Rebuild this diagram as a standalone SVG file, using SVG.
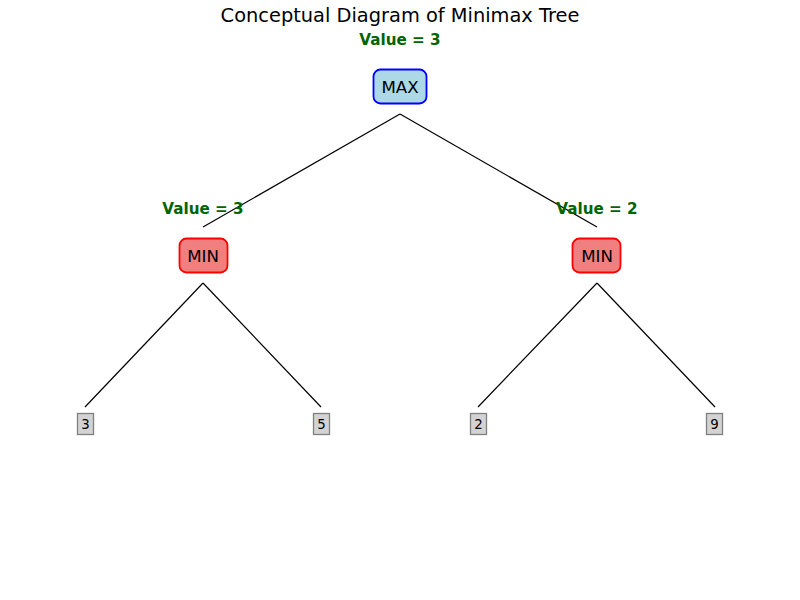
<svg xmlns="http://www.w3.org/2000/svg" width="800" height="600" viewBox="0 0 800 600">
<style>
text{font-family:"DejaVu Sans",sans-serif;text-anchor:middle}
.title{font-size:19.4px;fill:#000}
.val{font-size:15.2px;font-weight:bold;fill:#006400}
.lbl{font-size:16.67px;fill:#000}
.leaf{font-size:13.33px;fill:#000}
.max{fill:#add8e6;stroke:#0000ff;stroke-width:1.8}
.min{fill:#f08080;stroke:#ff0000;stroke-width:1.8}
.lf{fill:#d3d3d3;stroke:#808080;stroke-width:1.3}
.edge{stroke:#000;stroke-width:1.2;fill:none}
</style>
<rect width="800" height="600" fill="#fff"/>
<text class="title" x="400" y="22">Conceptual Diagram of Minimax Tree</text>
<g id="connectors">
<line class="edge" x1="400" y1="114" x2="203" y2="227"/>
<line class="edge" x1="400" y1="114" x2="597" y2="227"/>
<line class="edge" x1="203" y1="283" x2="85" y2="407"/>
<line class="edge" x1="203" y1="283" x2="321" y2="407"/>
<line class="edge" x1="597" y1="283" x2="478" y2="407"/>
<line class="edge" x1="597" y1="283" x2="715" y2="407"/>
</g>
<g id="max">
<text class="val" x="400" y="44.5">Value = 3</text>
<rect class="max" x="373.5" y="69.5" width="53" height="34" rx="7"/>
<text class="lbl" x="400" y="92.5">MAX</text>
</g>
<g id="min1">
<text class="val" x="203" y="213.5">Value = 3</text>
<rect class="min" x="179.5" y="238.5" width="48" height="34" rx="7"/>
<text class="lbl" x="203" y="261.5">MIN</text>
</g>
<g id="min2">
<text class="val" x="597" y="213.5">Value = 2</text>
<rect class="min" x="572.5" y="238.5" width="48" height="34" rx="7"/>
<text class="lbl" x="597" y="261.5">MIN</text>
</g>
<g id="leaf1"><rect class="lf" x="77.5" y="413.5" width="16" height="21"/><text class="leaf" x="85.5" y="429">3</text></g>
<g id="leaf2"><rect class="lf" x="313.5" y="413.5" width="16" height="21"/><text class="leaf" x="321.5" y="429">5</text></g>
<g id="leaf3"><rect class="lf" x="470.5" y="413.5" width="16" height="21"/><text class="leaf" x="478.5" y="429">2</text></g>
<g id="leaf4"><rect class="lf" x="706.5" y="413.5" width="16" height="21"/><text class="leaf" x="714.5" y="429">9</text></g>
</svg>
